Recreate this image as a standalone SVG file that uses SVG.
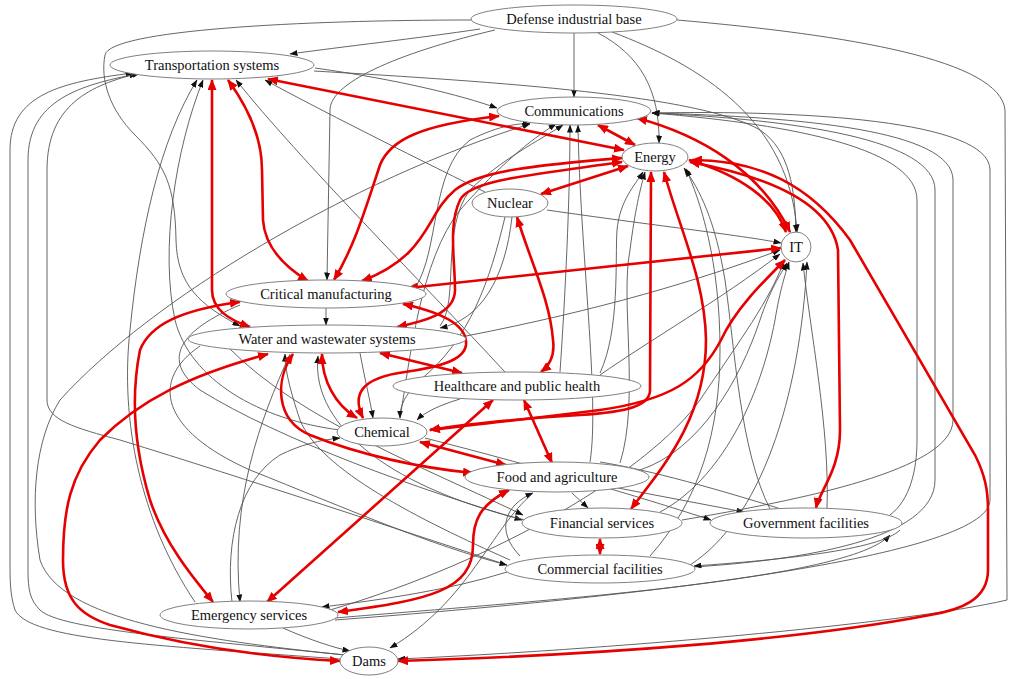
<svg xmlns="http://www.w3.org/2000/svg" width="1009" height="679" viewBox="0 0 1009 679">
<style>
.g{fill:none;stroke:#555;stroke-width:0.9;marker-end:url(#ab)}
.gn{fill:none;stroke:#555;stroke-width:0.9}
.r{fill:none;stroke:#e60000;stroke-width:2.6;marker-start:url(#ar);marker-end:url(#ar)}
.n ellipse{fill:#fff;stroke:#808080;stroke-width:1}
.n text{font-family:"Liberation Serif","Times New Roman",serif;font-size:14.5px;text-anchor:middle;fill:#111}
</style>
<defs>
<marker id="ab" markerUnits="userSpaceOnUse" markerWidth="8" markerHeight="6" refX="7.5" refY="3" orient="auto"><path d="M0,0 L8,3 L0,6 z" fill="#111"/></marker>
<marker id="ar" markerUnits="userSpaceOnUse" markerWidth="11" markerHeight="9" refX="10" refY="4.5" orient="auto-start-reverse"><path d="M0,0 L11,4.5 L0,9 z" fill="#e60000"/></marker>
</defs>
<rect width="1009" height="679" fill="#fff"/>
<g id="connectors">
<path class="g" d="M480,29 C420,38 340,47 290,54"/>
<path class="g" d="M574,33 L574,97"/>
<path class="g" d="M598,33 C640,55 660,90 659,143"/>
<path class="g" d="M612,32 C700,65 790,120 797,232"/>
<path class="g" d="M495,30 C410,50 330,80 330,110 L327,280"/>
<path class="g" d="M472,20 C300,20 110,30 105,55 C100,80 110,110 135,135 C165,165 175,185 176,240 C177,285 200,305 240,326"/>
<path class="g" d="M677,20 C850,35 1000,60 1005,110 L1007,600 C900,625 600,650 398,659"/>
<path class="g" d="M315,68 C400,80 460,95 497,108"/>
<path class="g" d="M314,71 C500,82 700,95 760,130 C790,150 795,190 796,232"/>
<path class="g" d="M485,192 C400,150 320,110 265,80"/>
<path class="g" d="M505,372 C420,280 300,160 236,80"/>
<path class="g" d="M195,602 C140,520 120,420 130,330 C140,230 160,140 197,80"/>
<path class="g" d="M340,659 C150,645 30,640 15,610 C10,595 10,580 10,560 L10,150 C10,95 60,82 133,73"/>
<path class="g" d="M345,655 C200,640 60,630 40,610 C30,600 28,590 28,570 L28,160 C28,100 80,85 137,74"/>
<path class="g" d="M507,565 C400,530 250,480 120,440 C75,428 47,420 47,400 L47,170 C47,105 90,85 140,73"/>
<path class="g" d="M340,430 C260,420 190,380 175,320 C160,250 175,150 203,80"/>
<path class="g" d="M326,308 L326,325"/>
<path class="g" d="M547,210 C650,225 740,235 781,243"/>
<path class="g" d="M560,372 C565,300 570,200 570,125"/>
<path class="g" d="M590,462 C600,400 580,250 578,125"/>
<path class="g" d="M440,326 C460,300 440,230 470,190 C500,160 540,140 563,125"/>
<path class="g" d="M400,418 C410,360 420,260 460,210 C500,165 530,140 556,124"/>
<path class="g" d="M600,373 C620,330 615,260 617,230 C620,200 635,185 643,172"/>
<path class="g" d="M620,463 C640,400 620,300 630,250 C635,210 640,190 645,172"/>
<path class="g" d="M770,509 C740,450 735,350 725,280 C715,220 700,190 684,168"/>
<path class="g" d="M650,556 C700,500 720,430 720,350 C720,260 700,200 686,169"/>
<path class="g" d="M660,512 C720,480 760,400 775,320 C780,290 785,275 789,262"/>
<path class="g" d="M827,508 C830,430 810,330 803,263"/>
<path class="g" d="M690,565 C760,520 800,400 807,262"/>
<path class="g" d="M640,470 C700,450 740,380 760,320 C770,290 780,275 787,263"/>
<path class="g" d="M330,610 C500,560 650,470 700,400 C740,340 770,300 784,261"/>
<path class="g" d="M600,375 C650,340 720,300 780,254"/>
<path class="g" d="M466,336 C600,310 700,280 780,250"/>
<path class="g" d="M572,493 L588,508"/>
<path class="g" d="M618,488 L744,512"/>
<path class="gn" d="M781,509 C720,490 650,470 600,462"/>
<path class="g" d="M520,556 C495,530 505,505 533,493"/>
<path class="g" d="M533,493 C490,530 470,600 390,648"/>
<path class="g" d="M283,628 C310,640 335,648 350,651"/>
<path class="g" d="M507,572 C450,590 380,600 322,607"/>
<path class="g" d="M290,354 C260,420 230,500 240,602"/>
<path class="g" d="M232,602 C225,540 240,480 280,455 C300,445 320,440 340,438"/>
<path class="g" d="M460,399 C440,405 425,412 417,420"/>
<path class="g" d="M890,515 C910,500 917,470 917,440 L917,200 C917,150 800,125 652,113"/>
<path class="g" d="M694,567 C800,560 935,540 935,480 L935,190 C935,140 800,120 652,113"/>
<path class="g" d="M682,520 C800,500 953,470 953,420 L953,180 C953,130 800,117 652,113"/>
<path class="g" d="M335,620 C600,600 990,560 990,500 L990,170 C990,120 800,110 652,113"/>
<path class="g" d="M415,288 C440,250 430,170 470,140 C500,125 520,123 530,124"/>
<path class="g" d="M505,217 C490,280 470,340 420,380 C405,395 400,405 400,418"/>
<path class="g" d="M512,217 C505,280 480,320 440,328"/>
<path class="g" d="M240,305 C180,330 160,360 200,390 C280,440 420,490 522,520"/>
<path class="g" d="M230,349 C300,420 430,470 523,515"/>
<path class="g" d="M200,346 C150,380 160,430 250,470 C350,510 430,545 507,565"/>
<path class="g" d="M425,438 C550,470 650,500 711,520"/>
<path class="g" d="M335,618 C550,600 850,580 890,535"/>
<path class="g" d="M900,530 C880,550 780,560 694,566"/>
<path class="g" d="M510,560 C420,520 320,470 300,420 C290,390 285,370 285,354"/>
<path class="g" d="M525,520 C400,490 310,430 318,356"/>
<path class="g" d="M360,353 C365,380 370,400 373,418"/>
<path class="g" d="M345,655 C200,640 60,620 40,560 C30,500 35,440 60,400 C150,300 350,180 530,124"/>
<path class="r" d="M268,79 C400,105 520,130 624,150"/>
<path class="r" d="M499,116 C420,125 390,140 380,165 C365,210 355,245 334,280"/>
<path class="r" d="M622,158 C540,165 480,170 455,190 C425,215 430,255 362,281"/>
<path class="r" d="M622,162 C530,175 470,180 460,200 C448,225 455,260 455,290 C455,315 420,322 397,327"/>
<path class="r" d="M628,166 L541,194"/>
<path class="r" d="M598,125 L635,145"/>
<path class="r" d="M637,118 C700,135 760,170 790,232"/>
<path class="r" d="M689,160 C740,175 775,200 786,232"/>
<path class="r" d="M690,162 C760,175 830,200 838,250 L840,430 C840,470 820,490 816,508"/>
<path class="r" d="M692,160 C760,160 810,185 850,240 L975,455 C985,475 988,490 988,510 L988,570 C988,600 960,610 930,615 C800,640 600,655 398,661"/>
<path class="r" d="M781,248 L408,288"/>
<path class="r" d="M785,260 C760,285 735,310 721,340 C700,380 670,400 600,410 C520,420 470,425 430,430"/>
<path class="r" d="M651,172 L650,390 C650,405 630,412 580,415 C500,420 460,425 430,430"/>
<path class="r" d="M517,217 C530,260 550,300 553,340 C555,355 550,365 541,372"/>
<path class="r" d="M524,400 L552,463"/>
<path class="r" d="M664,172 C680,230 705,280 706,340 C706,420 660,470 631,509"/>
<path class="r" d="M212,80 L212,290 C212,310 230,320 250,327"/>
<path class="r" d="M228,80 C250,110 262,140 262,170 L263,220 C265,250 290,270 308,281"/>
<path class="r" d="M240,302 C180,310 150,325 140,350 C130,400 135,450 150,500 C165,545 195,580 213,602"/>
<path class="r" d="M403,304 C440,312 468,325 466,345 C464,360 440,367 405,372 C360,378 352,395 363,418"/>
<path class="r" d="M322,354 C322,380 335,405 357,418"/>
<path class="r" d="M380,353 L462,373"/>
<path class="r" d="M293,354 C275,380 275,420 310,435 C360,455 420,468 473,473"/>
<path class="r" d="M420,442 L506,465"/>
<path class="r" d="M509,490 C480,505 473,520 473,545 C473,590 430,600 338,612"/>
<path class="r" d="M493,400 L267,602"/>
<path class="r" d="M268,354 C190,375 140,400 100,440 C70,475 63,510 63,560 C63,600 80,615 110,625 C200,650 280,658 340,661"/>
<path class="r" d="M600,539 L600,554"/>
</g>
<g id="dib" class="n"><ellipse cx="574" cy="19" rx="103" ry="14"/><text x="574" y="24">Defense industrial base</text></g>
<g id="tra" class="n"><ellipse cx="212" cy="65" rx="102" ry="14"/><text x="212" y="70">Transportation systems</text></g>
<g id="com" class="n"><ellipse cx="574" cy="111" rx="77" ry="14"/><text x="574" y="116">Communications</text></g>
<g id="ene" class="n"><ellipse cx="655" cy="157" rx="33" ry="14"/><text x="655" y="162">Energy</text></g>
<g id="nuc" class="n"><ellipse cx="510" cy="203" rx="38" ry="14"/><text x="510" y="208">Nuclear</text></g>
<g id="it" class="n"><ellipse cx="796" cy="247" rx="15" ry="15"/><text x="796" y="252">IT</text></g>
<g id="cm" class="n"><ellipse cx="326" cy="294" rx="100" ry="14"/><text x="326" y="299">Critical manufacturing</text></g>
<g id="wat" class="n"><ellipse cx="327" cy="339" rx="139" ry="14"/><text x="327" y="344">Water and wastewater systems</text></g>
<g id="hea" class="n"><ellipse cx="517" cy="386" rx="124" ry="14"/><text x="517" y="391">Healthcare and public health</text></g>
<g id="che" class="n"><ellipse cx="382" cy="432" rx="45" ry="14"/><text x="382" y="437">Chemical</text></g>
<g id="foo" class="n"><ellipse cx="557" cy="477" rx="92" ry="15"/><text x="557" y="482">Food and agriculture</text></g>
<g id="fin" class="n"><ellipse cx="602" cy="523" rx="80" ry="15"/><text x="602" y="528">Financial services</text></g>
<g id="gov" class="n"><ellipse cx="806" cy="523" rx="96" ry="15"/><text x="806" y="528">Government facilities</text></g>
<g id="comf" class="n"><ellipse cx="600" cy="569" rx="95" ry="14"/><text x="600" y="574">Commercial facilities</text></g>
<g id="eme" class="n"><ellipse cx="249" cy="615" rx="89" ry="14"/><text x="249" y="620">Emergency services</text></g>
<g id="dam" class="n"><ellipse cx="369" cy="661" rx="29" ry="14"/><text x="369" y="666">Dams</text></g>
</svg>
